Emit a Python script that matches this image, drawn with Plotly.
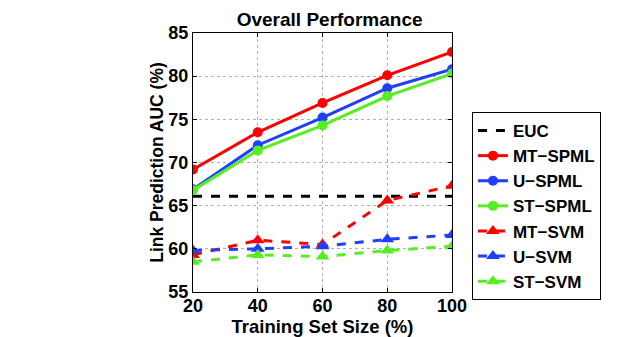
import plotly.graph_objects as go

# training set sizes (%)
sizes = [20, 40, 60, 80, 100]

euc = [66.1, 66.1, 66.1, 66.1, 66.1]
mt_spml = [69.2, 73.5, 76.9, 80.1, 82.8]
u_spml = [66.9, 72.0, 75.2, 78.6, 80.8]
st_spml = [66.8, 71.4, 74.3, 77.7, 80.3]
mt_svm = [59.3, 61.0, 60.5, 65.6, 67.3]
u_svm = [59.8, 60.0, 60.3, 61.1, 61.6]
st_svm = [58.5, 59.3, 59.1, 59.8, 60.3]

RED = "#ff0000"
BLUE = "#1f3fff"
GREEN = "#55ee22"
FONT = "Liberation Sans"

fig = go.Figure()

fig.add_trace(go.Scatter(x=sizes, y=euc, name="EUC", mode="lines",
                         line=dict(color="black", width=3, dash="dash")))

solid = [("MT\u2212SPML", mt_spml, RED), ("U\u2212SPML", u_spml, BLUE), ("ST\u2212SPML", st_spml, GREEN)]
for name, vals, col in solid:
    fig.add_trace(go.Scatter(x=sizes, y=vals, name=name, mode="lines+markers",
                             line=dict(color=col, width=3),
                             marker=dict(symbol="circle", size=10, color=col)))

dashed = [("MT\u2212SVM", mt_svm, RED), ("U\u2212SVM", u_svm, BLUE), ("ST\u2212SVM", st_svm, GREEN)]
for name, vals, col in dashed:
    fig.add_trace(go.Scatter(x=sizes, y=vals, name=name, mode="lines+markers",
                             line=dict(color=col, width=3, dash="dash"),
                             marker=dict(symbol="triangle-up", size=12, color=col)))

axis_common = dict(
    showline=True, linecolor="black", linewidth=1, mirror="ticks",
    ticks="inside", ticklen=4, tickcolor="black",
    showgrid=True, gridcolor="#b0b0b0", griddash="dot", gridwidth=1,
    zeroline=False, automargin=False,
    tickfont=dict(family=FONT, size=18, color="black", weight="bold"),
)

fig.update_xaxes(range=[20, 100], tickvals=sizes, ticklabelstandoff=-3,
                 title=dict(text="Training Set Size (%)", standoff=3,
                            font=dict(family=FONT, size=18.5, color="black", weight="bold")),
                 **axis_common)
fig.update_yaxes(range=[55, 85], dtick=5,
                 title=dict(text="Link Prediction AUC (%)", standoff=0,
                            font=dict(family=FONT, size=17.5, color="black", weight="bold")),
                 **axis_common)

# page body has an 8px margin, so the figure is a bit smaller than the window
fig.update_layout(
    width=615, height=329,
    margin=dict(l=185, r=171, t=25, b=45, pad=0),
    paper_bgcolor="white", plot_bgcolor="white",
    title=dict(text="Overall Performance", x=0.523, xanchor="center", y=0.985, yanchor="top",
               font=dict(family=FONT, size=19, color="black", weight="bold")),
    legend=dict(x=1.077, y=0.695, xanchor="left", yanchor="top",
                bordercolor="black", borderwidth=1, bgcolor="white",
                font=dict(family=FONT, size=17, color="black", weight="bold"),
                itemwidth=30, tracegroupgap=0),
    showlegend=True,
)

fig.write_html("out.html")
